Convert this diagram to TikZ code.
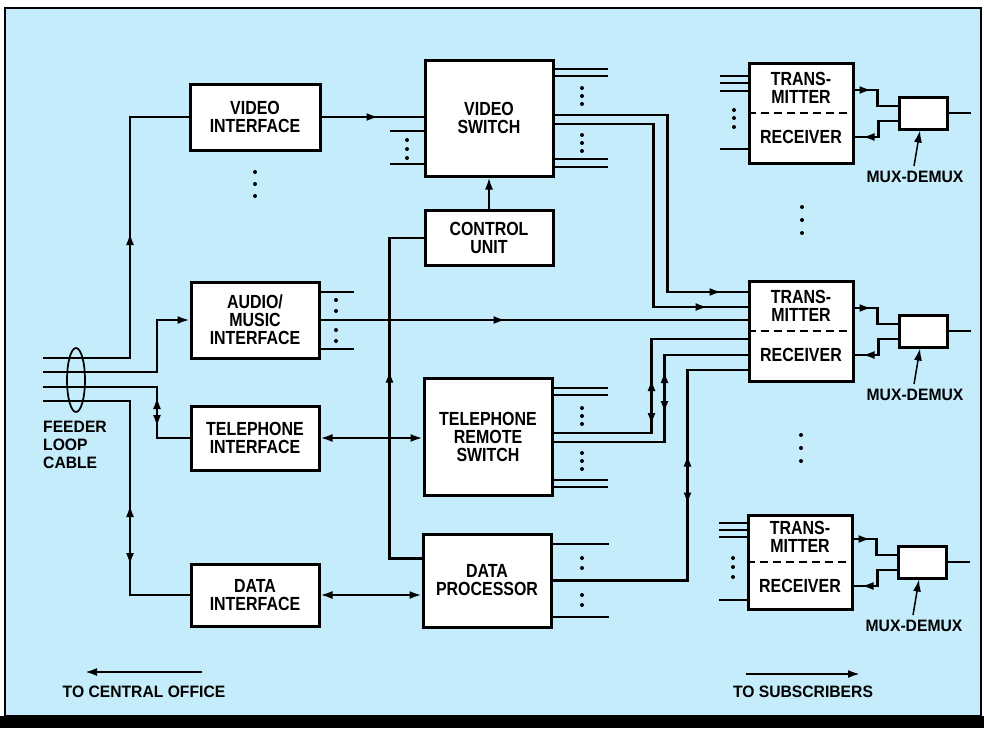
\documentclass[tikz,border=0pt]{standalone}
\usepackage{fontspec}
\newfontfamily\boxfont{Liberation Sans}[FakeStretch=0.84]
\newfontfamily\lblfont{Liberation Sans}[FakeStretch=0.95]
\usetikzlibrary{arrows.meta,calc,decorations.markings,positioning,shapes.geometric}
\definecolor{panel}{RGB}{197,236,250}
\tikzset{
  wire/.style={line width=2.1pt},
  blk/.style={draw,fill=white,line width=3pt,inner sep=0pt,align=center,
    font=\boxfont\bfseries\fontsize{19}{18}\selectfont},
  boxtext/.style={inner sep=0pt,align=center,font=\boxfont\bfseries\fontsize{19}{18}\selectfont},
  lbl/.style={inner sep=0pt,align=left,font=\lblfont\bfseries\fontsize{16.5}{18}\selectfont},
  muxbox/.style={draw,fill=white,line width=3pt,minimum width=48pt,minimum height=32pt},
  fwd/.style={postaction={decorate,decoration={markings,mark=at position #1 with {\arrow{>}}}}},
  bwd/.style={postaction={decorate,decoration={markings,mark=at position #1 with {\arrowreversed{>}}}}}
}
\newcommand{\dotcol}[2]{\foreach \yy in {#2} {\fill (#1,\yy) circle (2pt);}}
\newcommand{\trxunit}[3]{%
  \node[blk,minimum width=104pt,minimum height=#3] (trx#1) at (#2) {};
  \draw[wire,dash pattern=on 8pt off 5pt] (trx#1.west) -- (trx#1.east);
  \node[boxtext] (tx#1) at ($(trx#1.center)+(0,-25)$) {TRANS-\\MITTER};
  \node[boxtext] (rx#1) at ($(trx#1.center)+(0,24)$) {RECEIVER};
  \node[muxbox,right=43pt of trx#1] (mux#1) {};
  \node[lbl] (mxl#1) at ($(mux#1.center)+(-8,64)$) {MUX-DEMUX};
  \draw[wire,fwd=17pt] ($(trx#1.east)+(0,-23)$) -- ++(23,0) |- ($(mux#1.west)+(0,-7)$);
  \draw[wire,fwd=-8pt] ($(mux#1.west)+(0,8)$) -- ++(-19,0) |- ($(trx#1.east)+(0,24)$);
  \draw[wire] (mux#1.east) -- ++(22,0);
  \draw[line width=1.5pt,->] ($(mxl#1.north)+(-1,-5)$) -- ($(mux#1.south)+(-3,0)$);}

\begin{document}
\begin{tikzpicture}[x=1pt,y=-1pt,>={Latex[length=12pt,width=8pt]}]
\useasboundingbox (0,0) rectangle (984,728);
\fill[white] (0,0) rectangle (984,728);
\draw[line width=2pt,fill=panel] (5,8) rectangle (981,716);
\fill (0,716) rectangle (984,728);

% interfaces
\node[blk,minimum width=130pt,minimum height=66pt] (vi) at (255,117) {VIDEO\\INTERFACE};
\node[blk,minimum width=128pt,minimum height=76pt] (ami) at (255,320) {AUDIO/\\MUSIC\\INTERFACE};
\node[blk,minimum width=128pt,minimum height=64pt] (ti) at (255,438) {TELEPHONE\\INTERFACE};
\node[blk,minimum width=128pt,minimum height=62pt] (di) at (255,595) {DATA\\INTERFACE};
% switching
\node[blk,minimum width=128pt,minimum height=116pt] (vs) at (489,118) {VIDEO\\SWITCH};
\node[blk,minimum width=128pt,minimum height=55pt] (cu) at (489,238) {CONTROL\\UNIT};
\node[blk,minimum width=128pt,minimum height=117pt] (trs) at (488,437) {TELEPHONE\\REMOTE\\SWITCH};
\node[blk,minimum width=128pt,minimum height=93pt] (dp) at (487,580.5) {DATA\\PROCESSOR};
% subscriber side
\trxunit{1}{801,113}{100pt}
\trxunit{2}{801,331}{100pt}
\trxunit{3}{800,562}{94pt}

% feeder loop cable
\coordinate (c1) at (43,358); \coordinate (c2) at (43,372);
\coordinate (c3) at (43,387); \coordinate (c4) at (43,401);
\node[draw,ellipse,line width=1.7pt,minimum width=18pt,minimum height=64pt,inner sep=0pt] (cable) at (76,380) {};
\node[lbl,anchor=north west] (cbl) at (43,421) {FEEDER\\LOOP\\CABLE};
\draw[wire,fwd=212pt] (c1) -- ++(87,0) |- (vi.west);
\draw[wire,->] (c2) -- ++(114,0) |- (ami.west);
\draw[wire,bwd=124pt,fwd=154pt] (c3) -- ++(114,0) |- (ti.west);
\draw[wire,bwd=191pt,fwd=251pt] (c4) -- ++(87,0) |- (di.west);

% interface to switch
\draw[wire,fwd=57pt] (vi.east) -- (vi.east -| vs.west);
\draw[wire,<->] (ti.east) -- (ti.east -| trs.west);
\draw[wire,<->] (di.east) -- (di.east -| dp.west);
\draw[wire,->] (cu.north) -- (vs.south);
\draw[wire,fwd=220pt] ($(dp.west)+(0,-22)$) -- ++(-32,0) |- (cu.west);

% switch outputs to the middle transmitter/receiver
\draw[wire,fwd=-26pt] ($(vs.east)+(0,-3)$) -- ++(113,0) |- ($(trx2.west)+(0,-39)$);
\draw[wire,fwd=-40pt] ($(vs.east)+(0,6)$) -- ++(99,0) |- ($(trx2.west)+(0,-24)$);
\draw[wire,fwd=185pt] (ami.east) -- (ami.east -| trx2.west);
\draw[wire,bwd=106pt,fwd=152pt] ($(trs.east)+(0,-4)$) -- ++(98,0) |- ($(trx2.west)+(0,8)$);
\draw[wire,bwd=140pt,fwd=182pt] ($(trs.east)+(0,5)$) -- ++(111,0) |- ($(trx2.west)+(0,24)$);
\draw[wire,bwd=211pt,fwd=261pt] (dp.east) -- ++(135,0) |- ($(trx2.west)+(0,39)$);

% unused ports
\foreach \o in {-49,-42,41,49} \draw[wire] ($(vs.east)+(0,\o)$) -- ++(53,0);
\foreach \o in {13,46} \draw[wire] ($(vs.west)+(0,\o)$) -- ++(-34,0);
\foreach \o in {-28,29} \draw[wire] ($(ami.east)+(0,\o)$) -- ++(33,0);
\foreach \o in {-49,-42,43,50} \draw[wire] ($(trs.east)+(0,\o)$) -- ++(54,0);
\foreach \o in {-36.5,36.5} \draw[wire] ($(dp.east)+(0,\o)$) -- ++(56,0);
\foreach \o in {-37,-30,-22,36} \draw[wire] ($(trx1.west)+(0,\o)$) -- ++(-28,0);
\foreach \o in {-39,-32,-25,38} \draw[wire] ($(trx3.west)+(0,\o)$) -- ++(-28,0);
\dotcol{255}{172,184,196}
\dotcol{407}{140,149,158}
\dotcol{582}{88,96,104} \dotcol{582}{135,143,151}
\dotcol{336}{300,311} \dotcol{336}{330,341}
\dotcol{582}{408,416,424} \dotcol{582}{453,461,469}
\dotcol{582}{558,568} \dotcol{582}{595,605}
\dotcol{734}{110,118,127} \dotcol{733}{558,567,577}
\dotcol{802}{207,220,233} \dotcol{801}{435,448,461}

% directions
\node[lbl] (toco) at (144,692) {TO CENTRAL OFFICE};
\coordinate (coR) at (202,672); \coordinate (coL) at (85,672);
\draw[wire,->] (coR) -- (coL);
\node[lbl] (tosub) at (803,692) {TO SUBSCRIBERS};
\coordinate (sbL) at (746,674); \coordinate (sbR) at (860,674);
\draw[wire,->] (sbL) -- (sbR);
\end{tikzpicture}
\end{document}
